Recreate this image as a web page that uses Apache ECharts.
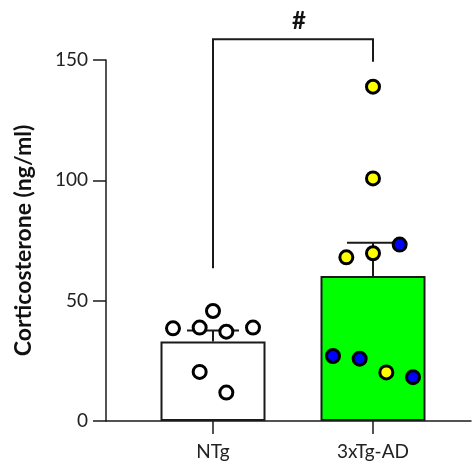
<!DOCTYPE html>
<html>
<head>
<meta charset="utf-8">
<script src="https://cdn.jsdelivr.net/npm/echarts@6/dist/echarts.min.js"></script>
<style>
  html, body { margin: 0; padding: 0; background: #fff; }
  #chart { width: 473px; height: 466px; }
</style>
</head>
<body>
<div id="chart"></div>
<script>
// Group names and their positions on the x scale
const groups = ['NTg', '3xTg-AD'];
const groupPos = [1, 2];

// Corticosterone per animal (ng/ml)
const ntgValues = [45.7, 38.5, 38.8, 37.1, 38.8, 20.4, 11.8];
const adYellowValues = [138.9, 100.8, 68.0, 69.7, 20.2];
const adBlueValues = [73.3, 27.0, 25.9, 18.2];

// Jitter column of each animal inside its group
const ntgJitter = [0, -3, -1, 1, 3, -1, 1];
const adYellowJitter = [0, 0, -2, 0, 1];
const adBlueJitter = [2, -3, -1, 3];

// y axis ticks
const yTicks = [0, 50, 100, 150];

// Significance bracket between the two groups (ng/ml)
const bracketLeftEnd = 63.5;
const bracketTop = 158.6;
const bracketRightEnd = 149.3;
const bracketMark = '#';

const JITTER_STEP = 1 / 12;
const FONT = 'Lato, "Open Sans", sans-serif';
const INK = '#1a1a1a';

function mean(a) { return a.reduce((s, v) => s + v, 0) / a.length; }
function sem(a) {
  const m = mean(a);
  const sd = Math.sqrt(a.reduce((s, v) => s + (v - m) * (v - m), 0) / (a.length - 1));
  return sd / Math.sqrt(a.length);
}

const adAll = adYellowValues.concat(adBlueValues);
const groupData = [ntgValues, adAll];
const barFill = ['#ffffff', '#00ff00'];

const points = (vals, jit, g) => vals.map((v, i) => [groupPos[g] + jit[i] * JITTER_STEP, v]);

const chart = echarts.init(document.getElementById('chart'), null, { renderer: 'canvas' });

const pointStyle = (fill) => ({ color: fill, borderColor: '#000', borderWidth: 3, opacity: 1 });

chart.setOption({
  animation: false,
  backgroundColor: '#ffffff',
  grid: { left: 106, right: 2, top: 60, bottom: 45 },
  xAxis: {
    type: 'value',
    min: 0.33125,
    max: 2.6125,
    splitLine: { show: false },
    axisLine: { show: true, lineStyle: { color: INK, width: 1.5 } },
    axisTick: { show: true, customValues: groupPos, length: 13, lineStyle: { color: INK, width: 1.5 } },
    axisLabel: {
      customValues: groupPos,
      formatter: (v) => groups[groupPos.indexOf(Math.round(v))] || '',
      color: '#222', fontFamily: FONT, fontSize: 19, margin: 21
    }
  },
  yAxis: {
    type: 'value',
    min: yTicks[0],
    max: yTicks[yTicks.length - 1],
    interval: yTicks[1] - yTicks[0],
    name: 'Corticosterone (ng/ml)',
    nameLocation: 'middle',
    nameGap: 71,
    nameRotate: 90,
    nameTextStyle: { color: '#111', fontFamily: FONT, fontWeight: 'bold', fontSize: 23 },
    splitLine: { show: false },
    axisLine: { show: true, lineStyle: { color: INK, width: 1.5 } },
    axisTick: { show: true, length: 13, lineStyle: { color: INK, width: 1.5 } },
    axisLabel: { color: '#222', fontFamily: FONT, fontSize: 19, margin: 18 }
  },
  series: [
    {
      type: 'bar',
      barWidth: 105,
      z: 2,
      data: groupData.map((vals, g) => ({
        value: [groupPos[g], mean(vals)],
        itemStyle: { color: barFill[g], borderColor: INK, borderWidth: 2 }
      }))
    },
    {
      type: 'custom',
      z: 3,
      data: groupData.map((vals, g) => [groupPos[g], mean(vals), sem(vals)]),
      renderItem: (params, api) => {
        const x = api.value(0), m = api.value(1), s = api.value(2);
        const base = api.coord([x, m]);
        const top = api.coord([x, m + s]);
        const half = 26;
        const style = { stroke: INK, lineWidth: 2 };
        return {
          type: 'group',
          children: [
            { type: 'line', shape: { x1: base[0], y1: base[1], x2: top[0], y2: top[1] }, style },
            { type: 'line', shape: { x1: top[0] - half, y1: top[1], x2: top[0] + half, y2: top[1] }, style }
          ]
        };
      }
    },
    {
      type: 'scatter', z: 4, symbol: 'circle', symbolSize: 13,
      itemStyle: pointStyle('#ffffff'),
      data: points(ntgValues, ntgJitter, 0)
    },
    {
      type: 'scatter', z: 4, symbol: 'circle', symbolSize: 13,
      itemStyle: pointStyle('#ffff00'),
      data: points(adYellowValues, adYellowJitter, 1)
    },
    {
      type: 'scatter', z: 4, symbol: 'circle', symbolSize: 13,
      itemStyle: pointStyle('#0000ff'),
      data: points(adBlueValues, adBlueJitter, 1)
    },
    {
      type: 'custom',
      z: 5,
      clip: false,
      data: [[groupPos[0], groupPos[1]]],
      renderItem: (params, api) => {
        const a = api.coord([groupPos[0], bracketLeftEnd]);
        const b = api.coord([groupPos[0], bracketTop]);
        const c = api.coord([groupPos[1], bracketTop]);
        const d = api.coord([groupPos[1], bracketRightEnd]);
        return {
          type: 'group',
          children: [
            { type: 'polyline', shape: { points: [a, b, c, d] }, style: { stroke: INK, lineWidth: 2, fill: null } },
            {
              type: 'text',
              x: (b[0] + c[0]) / 2 + 6, y: b[1] - 6,
              style: { text: bracketMark, fill: '#111', font: 'bold 24px ' + FONT, align: 'center', verticalAlign: 'bottom' }
            }
          ]
        };
      }
    }
  ]
});
</script>
</body>
</html>
